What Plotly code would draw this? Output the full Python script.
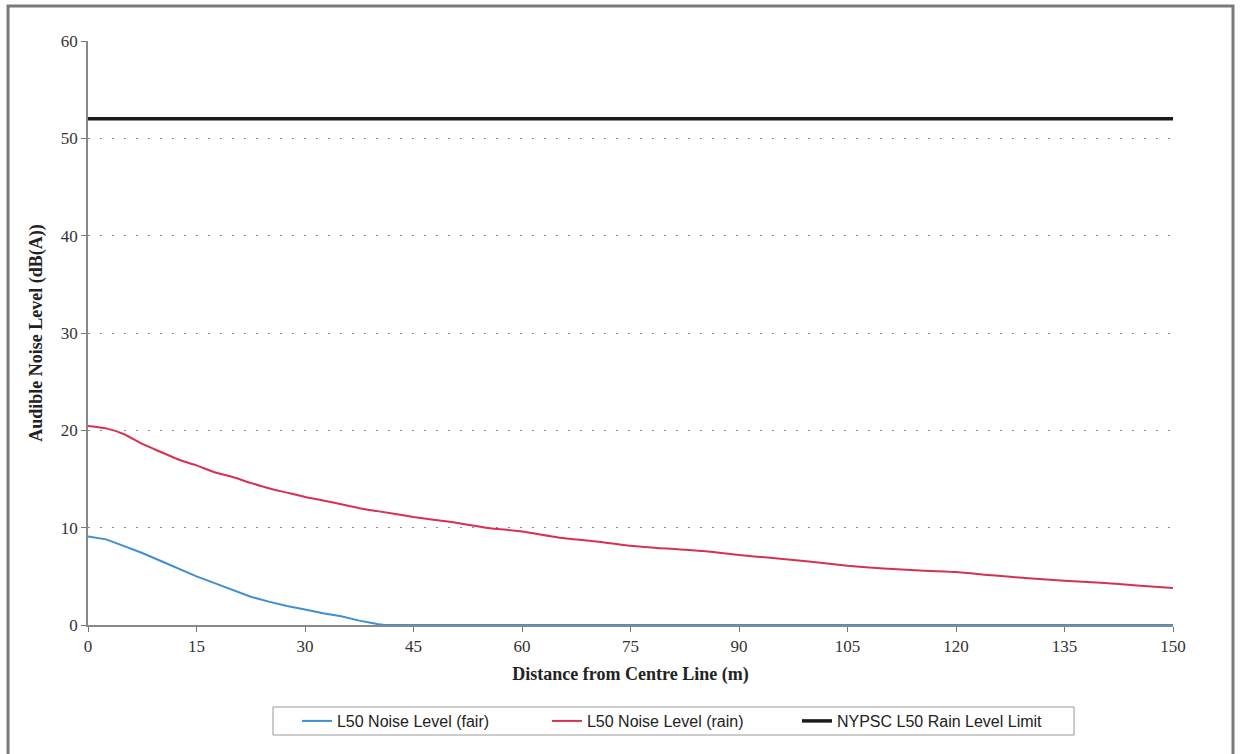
import plotly.graph_objects as go

# Data
dist_rain = [0, 2.5, 5, 7.5, 10, 12.5, 15, 17.5, 20, 22.5, 25, 27.5, 30, 32.5, 35, 37.5, 40,
             45, 50, 55, 60, 65, 70, 75, 80, 85, 90, 95, 100, 105, 110, 115, 120, 125, 130,
             135, 140, 145, 150]
rain = [20.45, 20.2, 19.6, 18.6, 17.8, 17.0, 16.4, 15.7, 15.2, 14.6, 14.05, 13.6, 13.15, 12.8,
        12.4, 12.0, 11.7, 11.1, 10.6, 10.0, 9.6, 9.0, 8.6, 8.15, 7.85, 7.6, 7.2, 6.85, 6.5,
        6.1, 5.8, 5.6, 5.45, 5.1, 4.8, 4.55, 4.35, 4.05, 3.8]

dist_fair = [0, 2.5, 5, 7.5, 10, 12.5, 15, 17.5, 20, 22.5, 25, 27.5, 30, 32.5, 35, 37.5, 40,
             41, 60, 90, 120, 150]
fair = [9.1, 8.8, 8.1, 7.4, 6.6, 5.8, 5.0, 4.3, 3.6, 2.9, 2.4, 1.95, 1.6, 1.2, 0.9, 0.45, 0.1,
        0, 0, 0, 0, 0]

dist_limit = [0, 150]
limit = [52, 52]

x_ticks = [0, 15, 30, 45, 60, 75, 90, 105, 120, 135, 150]
y_ticks = [0, 10, 20, 30, 40, 50, 60]

fig = go.Figure()
fig.add_trace(go.Scatter(x=dist_fair, y=fair, mode="lines", name="L50 Noise Level (fair)",
                         line=dict(color="#3f8fd2", width=2)))
fig.add_trace(go.Scatter(x=dist_rain, y=rain, mode="lines", name="L50 Noise Level (rain)",
                         line=dict(color="#d8304f", width=2, shape="spline", smoothing=0.5)))
fig.add_trace(go.Scatter(x=dist_limit, y=limit, mode="lines", name="NYPSC L50 Rain Level Limit",
                         line=dict(color="#1a1a1a", width=3.5)))

serif = "Liberation Serif, Times New Roman, serif"

fig.update_layout(
    width=1240, height=754,
    margin=dict(l=88, r=67, t=41, b=129),
    paper_bgcolor="white", plot_bgcolor="white",
    font=dict(family=serif, size=17, color="#333"),
    showlegend=True,
    legend=dict(orientation="h", x=0.1926, y=-0.1644, xanchor="left", yanchor="middle",
                borderwidth=0, bgcolor="rgba(0,0,0,0)",
                font=dict(family="Liberation Sans, Arial, sans-serif", size=16, color="#222"),
                entrywidth=205, entrywidthmode="pixels", itemwidth=30),
    xaxis=dict(range=[0, 150], tickvals=x_ticks, ticks="outside", ticklen=5, tickcolor="#777",
               showline=True, linecolor="#888", linewidth=1.5, showgrid=False, zeroline=False,
               layer="below traces",
               tickfont=dict(family=serif, size=17, color="#333"),
               title=dict(text="<b>Distance from Centre Line (m)</b>",
                          font=dict(family=serif, size=18, color="#222"), standoff=12)),
    yaxis=dict(range=[0, 60], tickvals=y_ticks, ticks="outside", ticklen=5, tickcolor="#777",
               showline=True, linecolor="#888", linewidth=1.5, showgrid=True,
               gridcolor="#8a8a8a", gridwidth=1, griddash="2px,10px", zeroline=False,
               layer="below traces",
               tickfont=dict(family=serif, size=17, color="#333"),
               title=dict(text="<b>Audible Noise Level (dB(A))</b>",
                          font=dict(family=serif, size=18, color="#222"), standoff=14)),
    shapes=[
        dict(type="rect", xref="paper", yref="paper",
             x0=-0.0737, x1=1.0553, y0=-0.25, y1=1.0599,
             line=dict(color="#7a7a7a", width=3), fillcolor="rgba(0,0,0,0)", layer="below"),
        dict(type="rect", xref="paper", yref="paper",
             x0=0.1705, x1=0.9088, y0=-0.1884, y1=-0.1404,
             line=dict(color="#999", width=1), fillcolor="rgba(0,0,0,0)", layer="below"),
    ],
)

# remove the default 8px page margin so the figure sits at the window's origin
fig.write_html("out.html", config={"displayModeBar": False},
               post_script="document.body.style.margin='0';")
